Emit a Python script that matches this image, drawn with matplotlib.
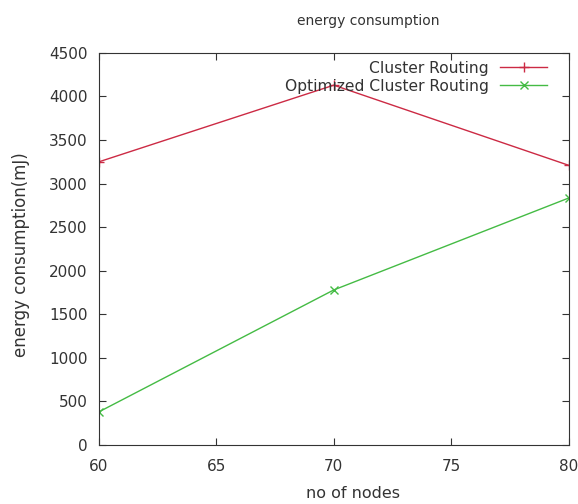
import matplotlib
matplotlib.use("Agg")
import matplotlib.pyplot as plt

nodes = [60, 70, 80]
cluster = [3250, 4130, 3210]
optimized = [380, 1780, 2835]

plt.rcParams['font.family'] = ['DejaVu Sans']
plt.rcParams['font.size'] = 11

fig = plt.figure(figsize=(5.78, 5.04), dpi=100)
ax = fig.add_axes([0.171, 0.117, 0.813, 0.778])

ax.plot(nodes, cluster, color='#cc2a44', lw=1, marker='+', ms=7, label='Cluster Routing')
ax.plot(nodes, optimized, color='#44bb44', lw=1, marker='x', ms=6, label='Optimized Cluster Routing')

ax.set_xlim(60, 80)
ax.set_ylim(0, 4500)
ax.set_xticks([60, 65, 70, 75, 80])
ax.set_yticks(range(0, 4501, 500))
ax.tick_params(direction='in', top=True, right=True, length=5, color='#333333', labelcolor='#333333')
ax.tick_params(axis='x', pad=10)
ax.tick_params(axis='y', pad=8)
for s in ax.spines.values():
    s.set_color('#333333')

ax.set_title('energy consumption', color='#333333', fontsize=10, x=0.574, pad=20)
ax.set_xlabel('no of nodes', color='#333333', fontsize=11.5, x=0.54, labelpad=9)
ax.set_ylabel('energy consumption(mJ)', color='#333333', fontsize=12, y=0.485, labelpad=14)

leg = ax.legend(loc='upper right', frameon=False, markerfirst=False, handlelength=3.0,
                handletextpad=0.75, borderaxespad=0.1, labelspacing=0.2,
                bbox_to_anchor=(0.97, 1.0), fontsize=11.2)
for t in leg.get_texts():
    t.set_color('#333333')
    t.set_ha('right')

fig.savefig('out.png', dpi=100)
